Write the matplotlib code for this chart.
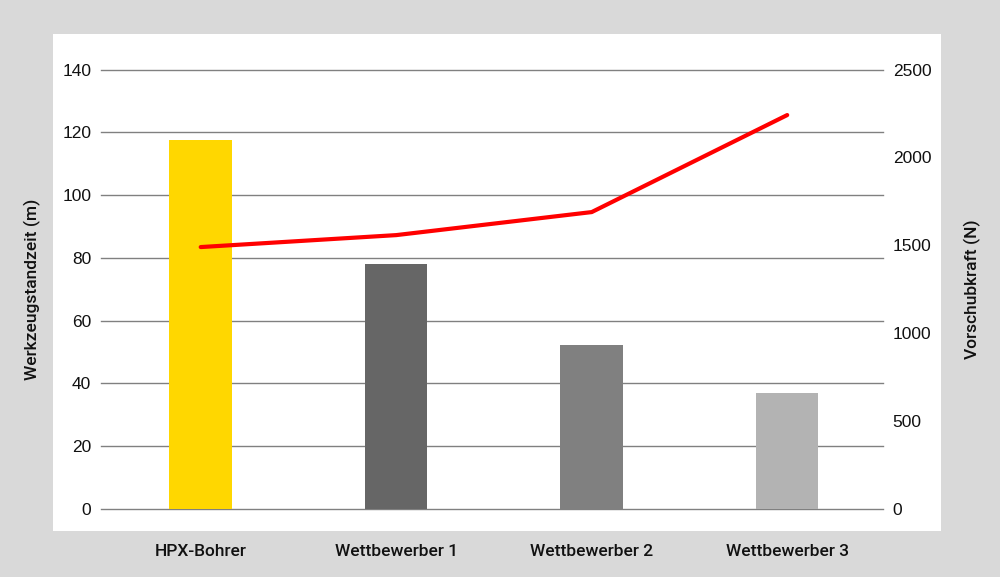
import matplotlib
matplotlib.use("Agg")
import matplotlib.pyplot as plt
from matplotlib.patches import Rectangle

categories = ["HPX-Bohrer", "Wettbewerber 1", "Wettbewerber 2", "Wettbewerber 3"]
standzeit = [117.4, 78.0, 52.2, 37.0]          # Werkzeugstandzeit (m)
vorschub = [1490, 1558, 1689, 2241]            # Vorschubkraft (N)
bar_colors = ["#ffd700", "#666666", "#808080", "#b3b3b3"]
left_ticks = [0, 20, 40, 60, 80, 100, 120, 140]
right_ticks = [0, 500, 1000, 1500, 2000, 2500]

plt.rcParams["font.family"] = ["Liberation Sans", "DejaVu Sans"]

fig = plt.figure(figsize=(10, 5.77), dpi=100)
fig.patch.set_facecolor("#d9d9d9")
# white panel behind the plot
fig.patches.append(Rectangle((0.053, 0.0797), 0.888, 0.861, transform=fig.transFigure,
                             facecolor="white", edgecolor="none", zorder=-5))

ax = fig.add_axes([0.101, 0.1179, 0.782, 0.7616])
ax.set_facecolor("none")
x = range(len(categories))
ax.bar(x, standzeit, width=0.32, color=bar_colors, zorder=2)
ax.set_xlim(-0.51, 3.49)
ax.set_ylim(0, 140)
ax.set_yticks(left_ticks)
ax.yaxis.grid(True, color="#808080", linewidth=1.0, zorder=1)
ax.set_axisbelow(True)
for line in ax.get_ygridlines():
    line.set_clip_on(False)
for s in ax.spines.values():
    s.set_visible(False)
ax.set_xticks(list(x))
ax.set_xticklabels(categories, fontsize=12.5, fontfamily=["Roboto", "DejaVu Sans"],
                   fontweight="medium", color="#111111")
ax.tick_params(axis="x", length=0, pad=25)
ax.tick_params(axis="y", length=0, pad=7, labelsize=12.5, labelcolor="#111111")
ax.set_ylabel("Werkzeugstandzeit (m)", fontsize=12.5, color="#111111", labelpad=15,
              fontfamily=["Roboto", "DejaVu Sans"], fontweight="medium")

ax2 = ax.twinx()
ax2.plot(x, vorschub, color="#ff0000", linewidth=3, solid_capstyle="round", zorder=3)
ax2.set_ylim(0, 2500)
ax2.set_yticks(right_ticks)
for s in ax2.spines.values():
    s.set_visible(False)
ax2.tick_params(axis="y", length=0, pad=7, labelsize=12.5, labelcolor="#111111")
ax2.set_ylabel("Vorschubkraft (N)", fontsize=12.5, color="#111111", labelpad=23,
               fontfamily=["Roboto", "DejaVu Sans"], fontweight="medium")

fig.savefig("out.png", dpi=100, facecolor=fig.get_facecolor())
